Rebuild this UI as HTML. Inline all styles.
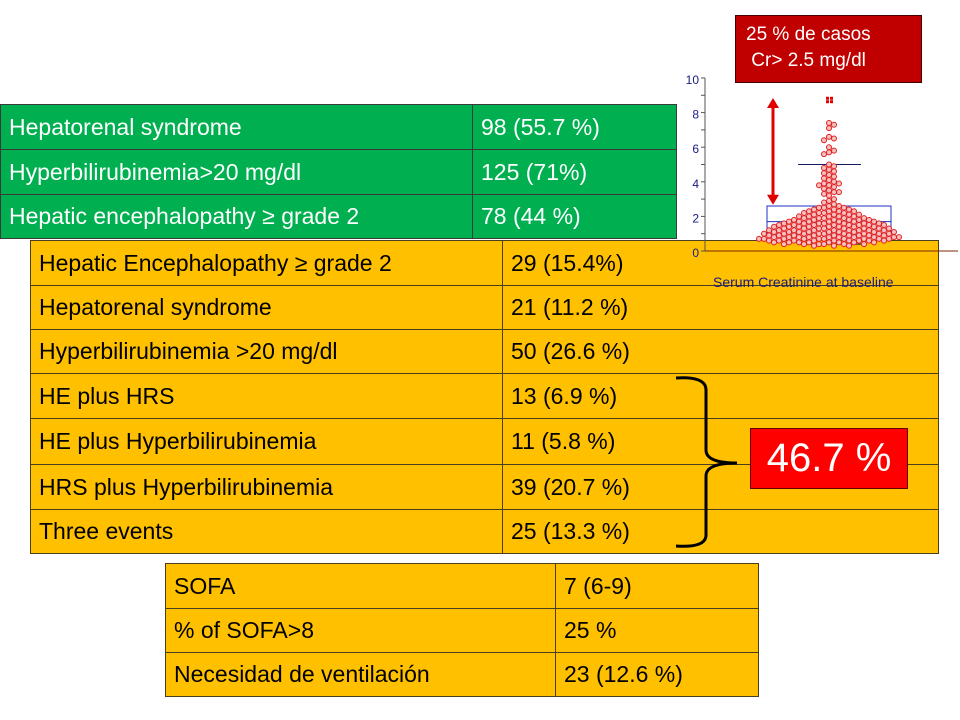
<!DOCTYPE html>
<html><head><meta charset="utf-8">
<style>
body{margin:0;width:960px;height:720px;background:#fff;position:relative;overflow:hidden;font-family:"Liberation Sans",sans-serif}
.t{position:absolute;border-collapse:collapse}
.t td{border:1px solid #4a3f1c;padding:0 0 0 8px;font-size:23px;white-space:nowrap;overflow:hidden}
.g td{background:#00b050;color:#fff;border-color:#3a3a3a}
.o td{background:#ffc000;color:#000}
.abs{position:absolute}
</style></head><body>

<table class="t g" style="left:0;top:104px;width:677px">
<tr style="height:45px"><td style="width:463px">Hepatorenal syndrome</td><td>98 (55.7 %)</td></tr>
<tr style="height:45px"><td>Hyperbilirubinemia&gt;20 mg/dl</td><td>125 (71%)</td></tr>
<tr style="height:44px"><td>Hepatic encephalopathy ≥ grade 2</td><td>78 (44 %)</td></tr>
</table>

<table class="t o" style="left:30px;top:240px;width:909px">
<tr style="height:45px"><td style="width:463px">Hepatic Encephalopathy ≥ grade 2</td><td>29 (15.4%)</td></tr>
<tr style="height:44px"><td>Hepatorenal syndrome</td><td>21 (11.2 %)</td></tr>
<tr style="height:44px"><td>Hyperbilirubinemia &gt;20 mg/dl</td><td>50 (26.6 %)</td></tr>
<tr style="height:45px"><td>HE plus HRS</td><td>13 (6.9 %)</td></tr>
<tr style="height:46px"><td>HE plus Hyperbilirubinemia</td><td>11 (5.8 %)</td></tr>
<tr style="height:45px"><td>HRS plus Hyperbilirubinemia</td><td>39 (20.7 %)</td></tr>
<tr style="height:44px"><td>Three events</td><td>25 (13.3 %)</td></tr>
</table>

<table class="t o" style="left:165px;top:563px;width:594px">
<tr style="height:45px"><td style="width:381px">SOFA</td><td>7 (6-9)</td></tr>
<tr style="height:44px"><td>% of SOFA&gt;8</td><td>25 %</td></tr>
<tr style="height:44px"><td>Necesidad de ventilación</td><td>23 (12.6 %)</td></tr>
</table>

<svg class="abs" style="left:0;top:0" width="960" height="720">
<path d="M676 378 Q706 376 706 390 L706 450 Q706 463 737 463 Q706 463 706 476 L706 535 Q706 548 676 546" fill="none" stroke="#000" stroke-width="3"/>
<g id="chart"></g>
</svg>

<div class="abs" style="left:750px;top:428px;width:158px;height:61px;background:#ff0000;border:1px solid #600;box-sizing:border-box;color:#fff;font-size:40px;line-height:59px;text-align:center">46.7 %</div>
<div class="abs" style="left:735px;top:15px;width:187px;height:68px;background:#c00000;border:1px solid #400;box-sizing:border-box;color:#fff;font-size:19px;line-height:26px;padding:6px 0 0 10px">25 % de casos<br>&nbsp;Cr&gt; 2.5 mg/dl</div>

<script>
const yTicks=[0,2,4,6,8,10];
const outliers=[8.8,8.8,8.6,8.6];
const values=[7.4,7.3,7.1,6.6,6.5,6.4,6.0,5.8,5.7,5.6,5.0,4.9,4.8,4.7,4.6,4.5,4.4,4.3,4.2,4.1,4.0,3.9,3.9,3.8,3.8,3.7,3.6,3.5,3.4,3.4,3.3,3.2,3.0,2.9,2.8,2.7,2.6,2.6,2.5,2.5,2.5,2.4,2.4,2.4,2.3,2.3,2.3,2.3,2.2,2.2,2.2,2.2,2.1,2.1,2.1,2.1,2.0,2.0,2.0,2.0,2.0,1.9,1.9,1.9,1.9,1.9,
1.8,1.8,1.8,1.8,1.8,1.8,1.7,1.7,1.7,1.7,1.7,1.7,1.7,1.6,1.6,1.6,1.6,1.6,1.6,1.6,1.5,1.5,1.5,1.5,1.5,1.5,1.5,1.5,1.4,1.4,1.4,1.4,1.4,1.4,1.4,1.4,1.3,1.3,1.3,1.3,1.3,1.3,1.3,1.3,
1.2,1.2,1.2,1.2,1.2,1.2,1.2,1.2,1.2,1.1,1.1,1.1,1.1,1.1,1.1,1.1,1.1,1.1,1.0,1.0,1.0,1.0,1.0,1.0,1.0,1.0,1.0,0.9,0.9,0.9,0.9,0.9,0.9,0.9,0.9,0.9,
0.8,0.8,0.8,0.8,0.8,0.8,0.8,0.8,0.8,0.8,0.7,0.7,0.7,0.7,0.7,0.7,0.7,0.7,0.7,0.7,0.6,0.6,0.6,0.6,0.6,0.6,0.6,0.6,0.6,0.5,0.5,0.5,0.5,0.5,0.5,0.5,0.5,0.4,0.4,0.4,0.4,0.4,0.4,0.3,0.3,0.3];
const boxStats=[0.4,1.0,1.7,2.6,5.0]; // whiskerLow,q1,median,q3,whiskerHigh
const cutoff=[2.5,10];
const NS='http://www.w3.org/2000/svg';
const g=document.getElementById('chart');
const y=v=>251-v*17.3;
const cx=829;
function mk(t,a){const e=document.createElementNS(NS,t);for(const k in a)e.setAttribute(k,a[k]);g.appendChild(e);return e;}
const navy='#1a1a80';
// axes
let ax=mk('line',{x1:705,y1:y(0),x2:705,y2:y(10),stroke:'#555'});


let bx=mk('line',{x1:705,y1:y(0),x2:958,y2:y(0),stroke:'#7a2a00'});


for(let v=0;v<=10;v++){mk('line',{x1:701,y1:y(v),x2:705,y2:y(v),stroke:'#555'});}
yTicks.forEach(v=>{const t=mk('text',{x:699,y:y(v)+6,'text-anchor':'end','font-size':12,fill:navy,'font-family':'Liberation Sans, sans-serif'});t.textContent=v;

});
const xl=mk('text',{x:713,y:287,'font-size':14,fill:navy,'font-family':'Liberation Sans, sans-serif'});xl.textContent='Serum Creatinine at baseline';


// box
const bs=boxStats;
let b=mk('rect',{x:767,y:y(bs[3]),width:124,height:y(bs[1])-y(bs[3]),fill:'none',stroke:'#2030c0'});


mk('line',{x1:767,x2:891,y1:y(bs[2]),y2:y(bs[2]),stroke:'#2030c0'});
mk('line',{x1:cx,x2:cx,y1:y(bs[3]),y2:y(bs[4]),stroke:'#2030c0'});
mk('line',{x1:798,x2:861,y1:y(bs[4]),y2:y(bs[4]),stroke:'#1a1a60'});
mk('line',{x1:798,x2:861,y1:y(bs[0]),y2:y(bs[0]),stroke:'#1a1a60'});
// swarm
const placed=[];const r=2.5,d=5;
values.forEach(v=>{const py=y(v);let k=0,px=cx;
 while(true){px=cx+(k%2?1:-1)*Math.ceil(k/2)*d;if(placed.every(p=>(p[0]-px)**2+(p[1]-py)**2>=d*d*0.95))break;k++;}
 placed.push([px,py]);
 const c=mk('circle',{cx:px,cy:py,r:r,fill:'#f6c0c0',stroke:'#e02020','stroke-width':1});
 
 
});
outliers.forEach((v,i)=>{const s=mk('rect',{x:cx-3+(i%2)*4,y:y(v)-2,width:3,height:3,fill:'#e00000'});
 
 });
// arrow
const ay1=y(cutoff[1])+20,ay2=y(cutoff[0])-3;
let ar=mk('line',{x1:773,x2:773,y1:ay1+8,y2:ay2-8,stroke:'#e00000','stroke-width':3});


mk('polygon',{points:`773,${ay1} 767,${ay1+10} 779,${ay1+10}`,fill:'#e00000'});
mk('polygon',{points:`773,${ay2} 767,${ay2-10} 779,${ay2-10}`,fill:'#e00000'});
</script>
</body></html>
